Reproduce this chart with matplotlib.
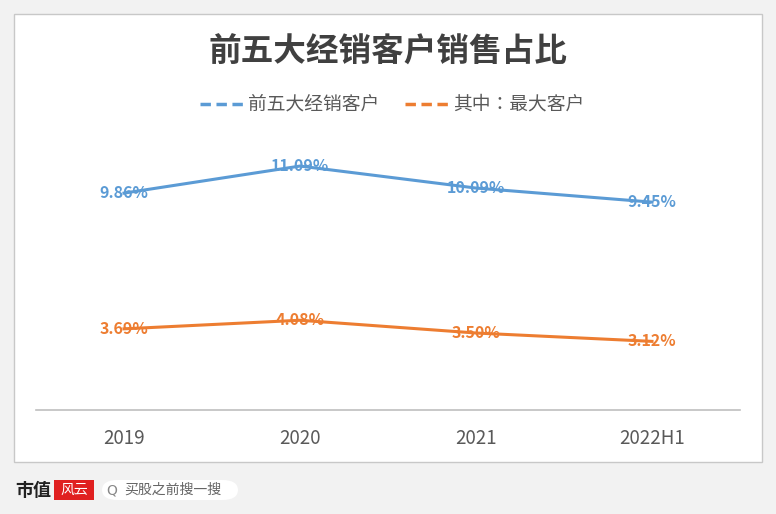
import matplotlib.pyplot as plt
from matplotlib import font_manager
from matplotlib.patches import Rectangle, FancyBboxPatch
from matplotlib.lines import Line2D

# pick whatever CJK family is actually registered
cjk = [f.name for f in font_manager.fontManager.ttflist if 'CJK' in f.name]
plt.rcParams['font.family'] = sorted(set(cjk))[:1] + ['DejaVu Sans']

categories = ['2019', '2020', '2021', '2022H1']
top5 = [9.86, 11.09, 10.09, 9.45]
biggest = [3.69, 4.08, 3.50, 3.12]

blue = '#5b9bd5'
orange = '#ed7d31'

W, H = 776, 514
fig = plt.figure(figsize=(W / 100, H / 100), dpi=100)
fig.patch.set_facecolor('#f2f2f2')

# white card
fig.patches.append(Rectangle((14 / W, 1 - 462 / H), 748 / W, 448 / H, transform=fig.transFigure,
                             facecolor='white', edgecolor='#c8c8c8', lw=1, zorder=-5))

ax = fig.add_axes([36 / W, 1 - 410 / H, 704 / W, 260 / H])
ax.set_zorder(2)
ax.set_facecolor('none')
x = range(len(categories))
ax.plot(x, top5, color=blue, lw=2.2)
ax.plot(x, biggest, color=orange, lw=2.2)
for i in x:
    ax.text(i, top5[i], f'{top5[i]:.2f}%', color=blue, fontsize=11.5, fontweight='bold',
            ha='center', va='center')
    ax.text(i, biggest[i], f'{biggest[i]:.2f}%', color=orange, fontsize=11.5, fontweight='bold',
            ha='center', va='center')
ax.set_xlim(-0.5, 3.5)
ax.set_ylim(0, 11.82)
ax.set_yticks([])
ax.set_xticks(list(x))
ax.set_xticklabels(categories, fontsize=13.5, color='#595959')
ax.tick_params(axis='x', length=0, pad=13)
for s in ['top', 'left', 'right']:
    ax.spines[s].set_visible(False)
ax.spines['bottom'].set_color('#bfbfbf')
ax.spines['bottom'].set_linewidth(1.2)

fig.text(388 / W, 1 - 52 / H, '前五大经销客户销售占比', ha='center', va='center',
         fontsize=23.5, fontweight='bold', color='#404040')

# legend
ly = 1 - 104 / H
for x0, x1, c, label in [(200, 243, blue, '前五大经销客户'), (405, 448, orange, '其中：最大客户')]:
    fig.add_artist(Line2D([x0 / W, x1 / W], [ly, ly], color=c, lw=2.5, ls=(0, (3, 1.6)),
                          transform=fig.transFigure))
    fig.text((x1 + 5) / W, ly, label, ha='left', va='center', fontsize=13.5, color='#595959')

# footer
fig.text(15 / W, 1 - 490 / H, '市值', ha='left', va='center', fontsize=13, fontweight='bold', color='#222222')
fig.patches.append(Rectangle((54 / W, 1 - 500 / H), 40 / W, 20 / H, transform=fig.transFigure,
                             facecolor='#e02020', edgecolor='none'))
fig.text(74 / W, 1 - 490 / H, '风云', ha='center', va='center', fontsize=10, color='white', style='italic')
fig.patches.append(FancyBboxPatch((102 / W, 1 - 500 / H), 136 / W, 20 / H, transform=fig.transFigure,
                                  boxstyle='round,pad=0,rounding_size=0.02', facecolor='white', edgecolor='none'))
fig.text(112 / W, 1 - 490 / H, 'Q', ha='center', va='center', fontsize=10, color='#888888', family='DejaVu Sans')
fig.text(124 / W, 1 - 490 / H, '买股之前搜一搜', ha='left', va='center', fontsize=10, color='#666666')

fig.savefig('out.png', dpi=100, facecolor=fig.get_facecolor())
